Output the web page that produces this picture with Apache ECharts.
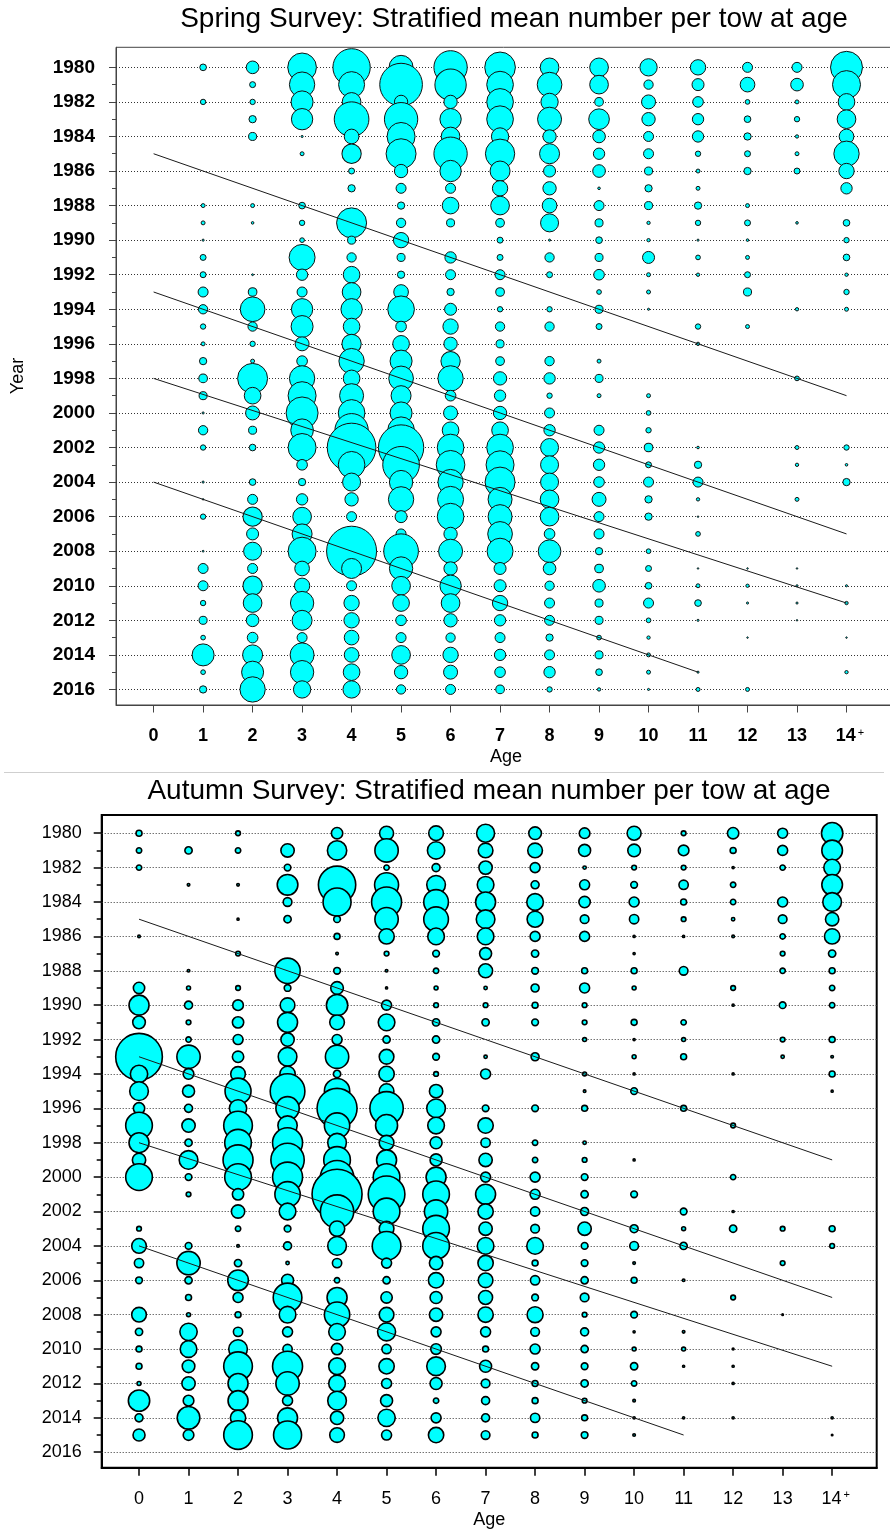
<!DOCTYPE html>
<html>
<head>
<meta charset="utf-8">
<script src="https://cdn.jsdelivr.net/npm/echarts@6/dist/echarts.min.js"></script>
<style>html,body{margin:0;padding:0;background:#fff}#chart{width:890px;height:1536px}</style>
</head>
<body>
<div id="chart"></div>
<script>
const FONT = "'Liberation Sans', Arial, Helvetica, sans-serif";

const years = [1980,1981,1982,1983,1984,1985,1986,1987,1988,1989,1990,1991,1992,1993,1994,1995,1996,1997,1998,1999,2000,2001,2002,2003,2004,2005,2006,2007,2008,2009,2010,2011,2012,2013,2014,2015,2016];
const yearTicks = [1980,1982,1984,1986,1988,1990,1992,1994,1996,1998,2000,2002,2004,2006,2008,2010,2012,2014,2016];
const oddYears = [1981,1983,1985,1987,1989,1991,1993,1995,1997,1999,2001,2003,2005,2007,2009,2011,2013,2015];
const ages = [0,1,2,3,4,5,6,7,8,9,10,11,12,13,14];
const ageLabels = ['0','1','2','3','4','5','6','7','8','9','10','11','12','13','14+'];

// cohort guide lines (start at age 0, end at given age/year)
const cohortStartYear = [1985, 1993, 1998, 2004];
const cohortEndAge = [14, 14, 14, 11];
const cohortEndYear = [1999, 2007, 2011, 2015];

// Spring survey: mean number per tow, years 1980..2016
const springAge0 = [null,null,null,null,null,null,null,null,null,null, null,null,null,null,null,null,null,null,null,null, null,null,null,null,null,null,null,null,null,null, null,null,null,null,null,null,null];
const springAge1 = [4,null,2.6,null,null,null,null,null,1.4,1.4, 0.4,3.2,3.2,9,7.8,2.6,1.4,4.8,6.8,5.8, 0.4,7.8,2.6,null,0.4,0.2,2.6,null,0.3,9, 9,2.6,5.8,2,43.6,2,4.8];
const springAge2 = [14.4,3.2,2.6,4.8,5.8,null,null,null,1.4,0.6, null,null,0.3,6.8,54.8,7.8,2.6,1.4,81,25, 17.6,5.8,4,null,4,9,33.6,13,29.2,9, 33.6,31.4,14.4,10.2,36,43.6,57.8];
const springAge3 = [74,57.8,43.6,41,0.4,1.4,null,null,4,2.6, 2,60.8,11.6,9,41,43.6,17.6,10.2,57.8,70.6, 92.2,46.2,70.6,10.2,4.8,11.6,31.4,36,70.6,19.4, 21.2,49,36,9,51.8,49,27];
const springAge4 = [125.4,60.8,31.4,108.2,19.4,33.6,3.2,4.8,null,81, 5.8,7.8,25,31.4,41,25,33.6,57.8,25,51.8, 64,100,213.2,64,29.2,16,9,null,225,36, 9,21.2,21.2,19.4,19.4,25,27];
const springAge5 = [51.8,163.8,16,100,70.6,81,16,9,4.8,7.8, 21.2,5.8,4.8,19.4,64,10.2,25,43.6,54.8,36, 43.6,64,185,121,49,57.8,13,9,108.2,49, 31.4,25,10.2,9,31.4,16,7.8];
const springAge6 = [100,88.4,16,41,31.4,100,41,9,25,5.8, null,11.6,9,4.8,13,21.2,16,33.6,57.8,10.2, 17.6,25,64,74,57.8,60.8,64,16,51.8,16, 41,31.4,16,7.8,21.2,17.6,9];
const springAge7 = [84.6,64,64,64,27,77.4,36,21.2,31.4,6.8, 3.2,3.2,9,6.8,2.6,7.8,5.8,6.8,16,11.6, 16,25,64,70.6,81,51.8,51.8,54.8,60.8,13, 13,21.2,11.6,9,11.6,10.2,6.8];
const springAge8 = [31.4,54.8,27,51.8,16,36,13,16,19.4,29.2, 0.4,7.8,3.2,null,2.6,7.8,null,7.8,11.6,2.6, 9,11.6,29.2,29.2,29.2,31.4,31.4,10.2,46.2,14.4, 7.8,9,9,4.8,9,11.6,2.6];
const springAge9 = [31.4,31.4,6.8,38.4,14.4,11.6,14.4,0.6,9,5.8, 4,5.8,10.2,2,5.8,3.2,null,1.4,5.8,1.4, null,9,11.6,11.6,10.2,17.6,9,9,4.8,6.8, 14.4,5.8,5.8,2,5.8,4,1];
const springAge10 = [27,7.8,17.6,16,9,9,5.8,4.8,5.8,1, 1,13,1.4,1.4,0.4,null,null,null,null,1.4, 2,2.6,6.8,3.2,9,4.8,4.8,null,2,3.2, 4,9,2,1,1.4,1.4,0.4];
const springAge11 = [21.2,13,10.2,11.6,11.6,2.6,1.4,1.4,4.8,2.6, 0.4,2,1,null,null,2.6,1,null,null,null, null,null,0.6,4.8,9,1,0.2,2,null,0.2, 1.4,4,0.4,null,null,0.4,1.4];
const springAge12 = [9,19.4,2,4,4.8,3.2,4.8,null,1.4,3.2, 0.6,1.4,3.2,5.8,null,1.4,null,null,null,null, null,null,null,null,null,null,null,null,null,0.2, 1,0.4,null,0.2,null,null,1.4];
const springAge13 = [9,14.4,1.4,2.6,1,1.4,3.2,null,null,0.6, null,null,null,null,1,null,null,null,2,null, null,null,1.4,1,null,1.4,null,null,null,0.2, 0.4,0.4,0.2,null,null,null,null];
const springAge14 = [92.2,70.6,25,31.4,19.4,57.8,21.2,11.6,null,4, 2.6,4,1,2.6,1.4,null,null,null,null,null, null,null,2.6,0.6,4.8,null,null,null,null,null, 0.4,1,null,0.2,null,1,null];

// Autumn survey: mean number per tow, years 1980..2016
const autumnAge0 = [3.2,2.6,2.6,null,null,null,0.6,null,null,11.6, 36,14.4,null,196,27,31.4,11.6,64,36,16, 64,null,null,2,19.4,7.8,4,null,19.4,4.8, 3.2,3.2,1.4,41,5.8,13,null];
const autumnAge1 = [null,4.8,null,0.6,null,null,null,null,0.6,1.4, 5.8,2,2.6,49,10.2,13,5.8,16,4.8,31.4, 4,2,null,null,4,49,4.8,3.2,1.4,27, 25,14.4,16,10.2,46.2,10.2,null];
const autumnAge2 = [2,2.6,null,0.6,null,0.4,null,2,null,2, 10.2,11.6,9,11.6,19.4,60.8,27,74,64,81, 64,11.6,16,2.6,0.6,4.8,38.4,9,3.2,7.8, 31.4,74,36,36,21.2,74,null];
const autumnAge3 = [null,16,4,38.4,6.8,4.8,null,null,57.8,4, 19.4,36,16,31.4,21.2,108.2,49,33.6,81,100, 81,57.8,25,4,5.8,1,13,74,25,9, 7.8,81,49,9,36,70.6,null];
const autumnAge4 = [11.6,33.6,null,125.4,70.6,4,3.2,0.6,4,14.4, 41,19.4,9,49,4.8,57.8,144,57.8,31.4,64, 100,225,100,21.2,31.4,7.8,2.6,36,57.8,25, 11.6,25,25,31.4,16,19.4,null];
const autumnAge5 = [17.6,49,2.6,51.8,81,49,21.2,2,0.6,0.4, 9,25,4.8,19.4,21.2,19.4,100,43.6,19.4,36, 64,121,64,19.4,74,9,4.8,11.6,19.4,29.2, 7.8,21.2,9,13,27,9,null];
const autumnAge6 = [19.4,27,5.8,31.4,54.8,54.8,25,4,2.6,1.4, 2,4.8,4.8,4,2,16,31.4,25,13,13, 36,64,49,64,64,16,21.2,13,16,9, 10.2,31.4,13,2.6,9,21.2,null];
const autumnAge7 = [29.2,19.4,16,25,36,31.4,25,13,17.6,1, 2,4.8,null,1,9,null,4,21.2,7.8,16, 9,36,21.2,16,25,21.2,19.4,17.6,21.2,9, 3.2,13,6.8,5.8,5.8,6.8,null];
const autumnAge8 = [14.4,19.4,9,5.8,25,23,9,4.8,4,5.8, 3.2,4,null,5.8,null,null,4,null,2.6,2.6, 9,9,7.8,6.8,25,3.2,7.8,4,23,6.8, 9,4.8,3.2,3.2,7.8,3.2,null];
const autumnAge9 = [10.2,13,1,9,11.6,6.8,9,null,3.2,9, 2,2,1.4,null,1.4,0.6,3.2,null,1,2, 4,4.8,5.8,16,4,4,4.8,6.8,2,5.8, 4.8,4,4.8,2,3.2,4,null];
const autumnAge10 = [17.6,14.4,2,4,9,7.8,0.4,0.4,3.2,1.4, null,3.2,0.4,1.4,0.4,4,null,null,null,0.4, null,4,null,5.8,6.8,0.6,3.2,null,4,0.4, 1.4,4.8,2.6,0.6,0.4,0.6,null];
const autumnAge11 = [2,10.2,2,7.8,3.2,2,0.4,null,6.8,null, null,2.6,1.4,3.2,null,null,3.2,null,null,null, null,null,4,1.4,4.8,null,0.6,null,null,0.6, 1.4,0.4,null,null,0.4,null,null];
const autumnAge12 = [11.6,3.2,0.4,2.6,2.6,1,0.6,null,null,2, 0.4,null,null,null,0.4,null,null,2,null,null, 2.6,null,0.4,4.8,null,null,null,2,null,null, 0.3,0.4,0.4,null,0.4,null,null];
const autumnAge13 = [9,9,2.6,null,9,6.8,2.6,2,2.6,null, 4,null,2,1,null,null,null,null,null,null, null,null,null,2,null,2,null,null,0.2,null, null,null,null,null,null,null,null];
const autumnAge14 = [41,38.4,25,38.4,31.4,16,21.2,4.8,3.2,2.6, 2.6,null,3.2,0.6,3.2,0.4,null,null,null,null, null,null,null,3.2,2,null,null,null,null,null, null,null,null,null,0.4,0.2,null];

const springByAge = [springAge0,springAge1,springAge2,springAge3,springAge4,springAge5,springAge6,springAge7,springAge8,springAge9,springAge10,springAge11,springAge12,springAge13,springAge14];
const autumnByAge = [autumnAge0,autumnAge1,autumnAge2,autumnAge3,autumnAge4,autumnAge5,autumnAge6,autumnAge7,autumnAge8,autumnAge9,autumnAge10,autumnAge11,autumnAge12,autumnAge13,autumnAge14];

function bubbleData(byAge) {
  const out = [];
  byAge.forEach(function (col, a) {
    col.forEach(function (v, i) { if (v != null) out.push([ages[a], years[i], v]); });
  });
  return out;
}
function bubbleSize(val) { return Math.max(1.5, Math.sqrt(val[2]) * 10 / 3); }

const Y0 = {min: 1978.84, max: 2016.9};
const Y1 = {min: 1978.94, max: 2016.9};
const X0 = {min: -0.76, max: 15.0};
const X1 = {min: -0.754, max: 14.9};

function ageFmt(v) { return ageLabels[v] === '14+' ? '{pad| }14{sup|+}' : ageLabels[v]; }

function xAxisMain(grid, rng, o) {
  return {
    type: 'value', gridIndex: grid, min: rng.min, max: rng.max,
    axisLine: {show: true, onZero: false, lineStyle: {color: o.color, width: o.lw}},
    axisTick: {show: true, length: o.tick, customValues: ages, lineStyle: {color: o.color, width: o.tw}},
    axisLabel: {
      customValues: ages, margin: o.margin, formatter: ageFmt, color: '#000',
      fontFamily: FONT, fontSize: 18, fontWeight: o.fw,
      rich: {
        pad: {width: 7, fontSize: 10, fontFamily: FONT},
        sup: {fontSize: 11, fontFamily: FONT, fontWeight: 'normal', verticalAlign: 'top', padding: [0, 0, 0, 2], color: '#000'}
      }
    },
    splitLine: {show: false},
    name: 'Age', nameLocation: 'middle', nameGap: o.nameGap,
    nameTextStyle: {fontFamily: FONT, fontSize: 18, color: '#000', verticalAlign: 'middle'}
  };
}
function yAxisMain(grid, rng, o) {
  return {
    type: 'value', gridIndex: grid, inverse: true, min: rng.min, max: rng.max, position: 'left',
    axisLine: {show: true, onZero: false, lineStyle: {color: o.color, width: o.lw}},
    axisTick: {show: true, length: o.tick, customValues: yearTicks, lineStyle: {color: o.color, width: o.tw}},
    axisLabel: {customValues: yearTicks, margin: o.margin, formatter: function (v) { return String(v); },
      color: '#000', fontFamily: FONT, fontSize: o.fs, fontWeight: o.fw},
    splitLine: {show: false}
  };
}
function yAxisMinor(grid, rng, o) {
  return {
    type: 'value', gridIndex: grid, inverse: true, min: rng.min, max: rng.max, position: 'left',
    axisLine: {show: false, onZero: false},
    axisTick: {show: true, length: o.tick, customValues: oddYears, lineStyle: {color: o.color, width: o.tw}},
    axisLabel: {show: false}, splitLine: {show: false}
  };
}
function xAxisHidden(grid, rng) {
  return {type: 'value', gridIndex: grid, min: rng.min, max: rng.max, show: false,
    axisLine: {show: false, onZero: false}};
}

function gridLines(color) {
  return {
    silent: true, symbol: 'none', z: 1, animation: false,
    label: {show: false},
    lineStyle: {type: [1, 2], color: color, width: 1},
    data: yearTicks.map(function (y) { return {yAxis: y}; })
  };
}
function cohortSeries(xi, yi) {
  return cohortStartYear.map(function (s, k) {
    return {
      type: 'line', xAxisIndex: xi, yAxisIndex: yi, z: 4, symbol: 'none', silent: true,
      lineStyle: {color: '#1a1a1a', width: 1},
      data: [[ages[0], s], [ages[cohortEndAge[k]], cohortEndYear[k]]]
    };
  });
}

const G0 = {left: 116, top: 47.3, width: 780, height: 657.7};
const G1 = {left: 101.7, top: 815, width: 775, height: 652.7};

const option = {
  animation: false,
  backgroundColor: '#ffffff',
  textStyle: {fontFamily: FONT},
  title: [
    {text: 'Spring Survey: Stratified mean number per tow at age', left: 514, top: 5, textAlign: 'center', padding: 0,
      textStyle: {fontFamily: FONT, fontSize: 28, fontWeight: 'normal', color: '#000'}},
    {text: 'Autumn Survey: Stratified mean number per tow at age', left: 489, top: 777, textAlign: 'center', padding: 0,
      textStyle: {fontFamily: FONT, fontSize: 28, fontWeight: 'normal', color: '#000'}}
  ],
  grid: [
    Object.assign({show: true, borderColor: '#444', borderWidth: 1, backgroundColor: 'transparent', outerBoundsMode: 'none', containLabel: false}, G0),
    Object.assign({show: true, borderColor: '#000', borderWidth: 2, backgroundColor: 'transparent', outerBoundsMode: 'none', containLabel: false}, G1),
    Object.assign({show: false, outerBoundsMode: 'none', containLabel: false}, G0),
    Object.assign({show: false, outerBoundsMode: 'none', containLabel: false}, G1)
  ],
  xAxis: [
    xAxisMain(0, X0, {color: '#444', lw: 1, tw: 1, tick: 7.5, margin: 22, fw: 'bold', nameGap: 52}),
    xAxisMain(1, X1, {color: '#000', lw: 2, tw: 1.5, tick: 8, margin: 22, fw: 'normal', nameGap: 52}),
    xAxisHidden(2, X0),
    xAxisHidden(3, X1)
  ],
  yAxis: [
    yAxisMain(0, Y0, {color: '#444', lw: 1, tw: 1, tick: 7, margin: 21, fs: 19, fw: 'bold'}),
    yAxisMain(1, Y1, {color: '#000', lw: 2, tw: 1.5, tick: 8, margin: 20, fs: 18, fw: 'normal'}),
    yAxisMinor(2, Y0, {color: '#444', tw: 1, tick: 4}),
    yAxisMinor(3, Y1, {color: '#000', tw: 1.5, tick: 5})
  ],
  graphic: [
    {type: 'text', x: 18, y: 376, rotation: Math.PI / 2, silent: true,
      style: {text: 'Year', fontFamily: FONT, fontSize: 18, fill: '#000', textAlign: 'center', textVerticalAlign: 'middle'}},
    {type: 'line', silent: true, shape: {x1: 4, y1: 772.5, x2: 884, y2: 772.5}, style: {stroke: '#cfcfcf', lineWidth: 1}}
  ],
  series: [
    {
      type: 'scatter', name: 'Spring', xAxisIndex: 0, yAxisIndex: 0, z: 2, clip: false,
      symbol: 'circle', symbolSize: bubbleSize,
      itemStyle: {color: '#00ffff', borderColor: '#111', borderWidth: 1, opacity: 1},
      data: bubbleData(springByAge),
      markLine: gridLines('#333')
    },
    {
      type: 'scatter', name: 'Autumn', xAxisIndex: 1, yAxisIndex: 1, z: 2, clip: false,
      symbol: 'circle', symbolSize: bubbleSize,
      itemStyle: {color: '#00ffff', borderColor: '#000', borderWidth: 1.6, opacity: 1},
      data: bubbleData(autumnByAge),
      markLine: gridLines('#333')
    }
  ].concat(cohortSeries(0, 0)).concat(cohortSeries(1, 1))
};

const chart = echarts.init(document.getElementById('chart'), null, {renderer: 'canvas'});
chart.setOption(option);
</script>
</body>
</html>
